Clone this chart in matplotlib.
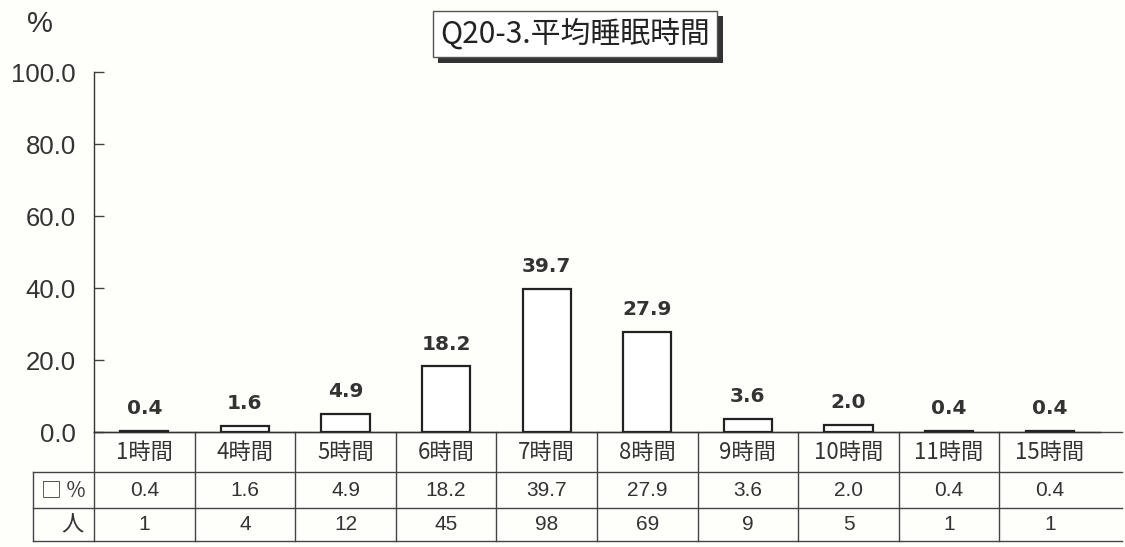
import matplotlib
matplotlib.use("Agg")
import matplotlib.pyplot as plt
import matplotlib.patheffects as pe
from matplotlib.transforms import blended_transform_factory

categories = ["1時間", "4時間", "5時間", "6時間", "7時間", "8時間", "9時間", "10時間", "11時間", "15時間"]
percent = [0.4, 1.6, 4.9, 18.2, 39.7, 27.9, 3.6, 2.0, 0.4, 0.4]
people = [1, 4, 12, 45, 98, 69, 9, 5, 1, 1]
yticks = [0, 20, 40, 60, 80, 100]
title = "Q20-3.平均睡眠時間"

W, H = 1125, 547
fig = plt.figure(figsize=(W / 100, H / 100), dpi=100)
fig.patch.set_facecolor("#fefefb")

left_px, right_px, top_px, base_px = 94, 1100, 72, 432
ax = fig.add_axes([left_px / W, 1 - base_px / H, (right_px - left_px) / W, (base_px - top_px) / H])
ax.set_facecolor("none")

x = list(range(len(categories)))
ax.bar(x, percent, width=0.48, color="white", edgecolor="#222222", linewidth=1.6, zorder=3)
for xi, v in zip(x, percent):
    ax.text(xi, v + 3.6, f"{v:.1f}", ha="center", va="bottom", fontsize=14.5,
            fontweight="bold", color="#333333", family="DejaVu Sans")

ax.set_xlim(-0.5, len(categories) - 0.5)
ax.set_ylim(0, 100)
ax.set_yticks(yticks)
ax.set_yticklabels([f"{t:.1f}" for t in yticks], fontsize=18.5, color="#333333", family="Liberation Sans")
ax.tick_params(axis="y", direction="in", length=7, width=1, color="#444444", pad=13)
ax.set_xticks([])
for s in ["top", "right"]:
    ax.spines[s].set_visible(False)
ax.spines["left"].set_color("#333333")
ax.spines["bottom"].set_color("#333333")
ax.spines["left"].set_linewidth(1)
ax.spines["bottom"].set_linewidth(1)

# table
tr = blended_transform_factory(ax.transData, ax.transAxes)
ax_h = base_px - top_px
r1 = -(472 - base_px) / ax_h
r2 = -(508 - base_px) / ax_h
r3 = -(541 - base_px) / ax_h
cat_px = (right_px - left_px) / len(categories)
lbl_left = -0.5 - (left_px - 33) / cat_px
x_right = len(categories) - 0.5 + 22 / cat_px
lc = "#444444"
lw = 1.0
ax.plot([lbl_left, x_right], [r1, r1], transform=tr, color=lc, lw=lw, clip_on=False)
ax.plot([lbl_left, x_right], [r2, r2], transform=tr, color=lc, lw=lw, clip_on=False)
ax.plot([lbl_left, x_right], [r3, r3], transform=tr, color=lc, lw=lw, clip_on=False)
ax.plot([-0.5, x_right], [0, 0], transform=tr, color=lc, lw=lw, clip_on=False)
ax.plot([lbl_left, lbl_left], [r1, r3], transform=tr, color=lc, lw=lw, clip_on=False)
ax.plot([-0.5, -0.5], [0, r3], transform=tr, color=lc, lw=lw, clip_on=False)
for i in range(1, len(categories)):
    ax.plot([i - 0.5, i - 0.5], [0, r3], transform=tr, color=lc, lw=lw, clip_on=False)

for xi, c, p, n in zip(x, categories, percent, people):
    ax.text(xi, (0 + r1) / 2, c, transform=tr, ha="center", va="center", fontsize=16,
            color="#333333", family=["Noto Sans CJK JP", "DejaVu Sans"])
    ax.text(xi, (r1 + r2) / 2, f"{p:.1f}", transform=tr, ha="center", va="center",
            fontsize=15, color="#333333", family="Liberation Sans")
    ax.text(xi, (r2 + r3) / 2, f"{n}", transform=tr, ha="center", va="center",
            fontsize=15, color="#333333", family="Liberation Sans")

ax.text((lbl_left - 0.5) / 2, (r1 + r2) / 2, "□ %", transform=tr, ha="center", va="center",
        fontsize=15, color="#333333", family=["Noto Sans CJK JP", "DejaVu Sans"])
ax.text(-0.6, (r2 + r3) / 2, "人", transform=tr, ha="right", va="center",
        fontsize=16, color="#333333", family=["Noto Sans CJK JP", "DejaVu Sans"])

fig.text(40 / W, 1 - 24 / H, "%", ha="center", va="center", fontsize=21, color="#333333",
         family="Liberation Sans")

t = fig.text(575 / W, 1 - 34 / H, title, ha="center", va="center", fontsize=21.5, color="#222222",
             family=["Noto Sans CJK JP", "DejaVu Sans"],
             bbox=dict(boxstyle="square,pad=0.25", facecolor="white", edgecolor="#555555", linewidth=1))
t.get_bbox_patch().set_path_effects([pe.withSimplePatchShadow(offset=(4, -4), shadow_rgbFace="#333333", alpha=1.0)])

fig.savefig("out.png", dpi=100, facecolor=fig.get_facecolor())
